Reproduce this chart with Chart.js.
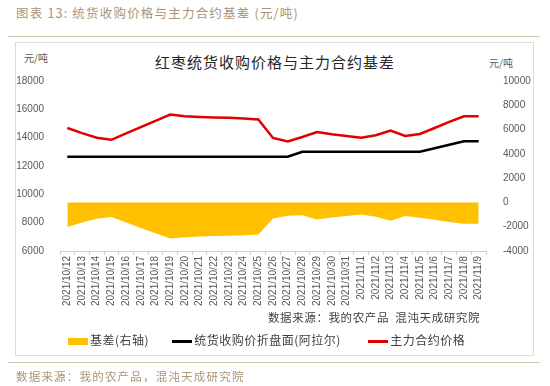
<!DOCTYPE html>
<html>
<head>
<meta charset="utf-8">
<script src="https://cdn.jsdelivr.net/npm/chart.js@4/dist/chart.umd.min.js"></script>
<style>
  body { margin: 0; width: 550px; height: 386px; background: #fff; position: relative; overflow: hidden;
         font-family: "Noto Sans CJK SC", "Noto Sans", sans-serif; }
  .abs { position: absolute; white-space: nowrap; }
  #caption { left: 16px; top: 3px; font-size: 12.5px; color: #a99574; letter-spacing: 1.2px; }
  #topline { left: 8px; top: 36px; width: 532px; height: 1px; background: #d3c6ad; }
  #box { left: 15px; top: 42px; width: 517px; height: 312px; border: 1px solid #dcdcdc; }
  #title { left: 0; width: 550px; top: 51px; text-align: center; font-size: 15px; color: #262626; letter-spacing: 1px; }
  .unit { font-size: 10px; color: #595959; }
  #src1 { left: 268px; top: 309px; font-size: 11.5px; color: #404040; letter-spacing: 0.6px; }
  #legend { left: 68px; top: 331px; font-size: 12px; color: #404040; letter-spacing: 0.5px; }
  #legend span.k { display: inline-block; vertical-align: middle; width: 20px; margin-right: 2px; }
  #botline { left: 8px; top: 362px; width: 532px; height: 1px; background: #d3c6ad; }
  #footer { left: 16px; top: 368px; font-size: 11.5px; color: #a99574; letter-spacing: 1.2px; }
  #wrap { position: absolute; left: 15px; top: 42px; width: 518px; height: 313px; }
</style>
</head>
<body>
<div class="abs" id="caption">图表 13: 统货收购价格与主力合约基差 (元/吨)</div>
<div class="abs" id="topline"></div>
<div class="abs" id="box"></div>
<div class="abs" id="title">红枣统货收购价格与主力合约基差</div>
<div class="abs unit" style="left:24px;top:50px;">元/吨</div>
<div class="abs unit" style="left:489px;top:55px;">元/吨</div>
<div id="wrap"><canvas id="myChart" width="518" height="313"></canvas></div>
<div class="abs" id="src1">数据来源：我的农产品&nbsp;&nbsp;混沌天成研究院</div>
<div class="abs" id="legend">
  <span class="k" style="height:7px;background:#ffc000;"></span>基差(右轴)
  <span class="k" style="height:3px;background:#000;margin-left:20px;"></span>统货收购价折盘面(阿拉尔)
  <span class="k" style="height:3px;background:#e00000;margin-left:24px;"></span>主力合约价格
</div>
<div class="abs" id="botline"></div>
<div class="abs" id="footer">数据来源：我的农产品，混沌天成研究院</div>

<script>
// dates on the x axis
var xDates = ["2021/10/12","2021/10/13","2021/10/14","2021/10/15","2021/10/16","2021/10/17","2021/10/18",
  "2021/10/19","2021/10/20","2021/10/21","2021/10/22","2021/10/23","2021/10/24","2021/10/25","2021/10/26",
  "2021/10/27","2021/10/28","2021/10/29","2021/10/30","2021/10/31","2021/11/1","2021/11/2","2021/11/3",
  "2021/11/4","2021/11/5","2021/11/6","2021/11/7","2021/11/8","2021/11/9"];

// 主力合约价格 (left axis)
var futuresPrice = [14680,14320,14000,13850,14300,14750,15190,15630,15510,15460,15420,15400,15360,15290,
  13980,13740,14050,14400,14240,14120,14000,14170,14500,14120,14260,14680,15110,15510,15510];

// 统货收购价折盘面 (left axis)
var spotPrice = [12650,12650,12650,12650,12650,12650,12650,12650,12650,12650,12650,12650,12650,12650,
  12650,12650,13000,13000,13000,13000,13000,13000,13000,13000,13000,13250,13500,13750,13750];

// 基差 (right axis)
var basis = [-2030,-1650,-1350,-1200,-1650,-2100,-2540,-2980,-2860,-2810,-2770,-2750,-2710,-2640,
  -1330,-1090,-1050,-1400,-1240,-1120,-1000,-1170,-1500,-1120,-1260,-1430,-1610,-1760,-1760];

var tickFont = {family: "'Liberation Sans', Arial, sans-serif", size: 10};

function plainNum(v) { return String(v); }

var ctx = document.getElementById("myChart").getContext("2d");
var myChart = new Chart(ctx, {
  type: "line",
  data: {
    labels: xDates,
    datasets: [{
      label: "主力合约价格",
      data: futuresPrice,
      yAxisID: "y",
      borderColor: "#e00000",
      borderWidth: 2.5,
      pointRadius: 0,
      fill: false,
      tension: 0,
      order: 1
    }, {
      label: "统货收购价折盘面(阿拉尔)",
      data: spotPrice,
      yAxisID: "y",
      borderColor: "#000000",
      borderWidth: 2.5,
      pointRadius: 0,
      fill: false,
      tension: 0,
      order: 2
    }, {
      label: "基差(右轴)",
      data: basis,
      yAxisID: "y1",
      borderWidth: 0,
      borderColor: "rgba(0,0,0,0)",
      backgroundColor: "#ffc000",
      pointRadius: 0,
      fill: "origin",
      tension: 0,
      order: 3
    }]
  },
  options: {
    responsive: false,
    animation: false,
    layout: {padding: {top: 39, left: 0, right: 0, bottom: 0}},
    plugins: {legend: {display: false}, title: {display: false}, tooltip: {enabled: false}},
    scales: {
      x: {
        offset: true,
        afterFit: function(scale) { scale.height = 104; },
        grid: {offset: true, drawOnChartArea: false, drawTicks: true, tickLength: 4, color: "#d0d0d0"},
        border: {color: "#d0d0d0"},
        ticks: {autoSkip: false, maxRotation: 90, minRotation: 90, padding: 1, color: "#595959", font: tickFont}
      },
      y: {
        position: "left",
        min: 6000, max: 18000,
        afterFit: function(scale) { scale.width = 45; },
        grid: {display: false},
        border: {display: false},
        ticks: {stepSize: 2000, padding: 8, color: "#595959", font: tickFont, callback: plainNum}
      },
      y1: {
        position: "right",
        min: -4000, max: 10000,
        afterFit: function(scale) { scale.width = 47; },
        grid: {display: false},
        border: {display: false},
        ticks: {stepSize: 2000, padding: 9, color: "#595959", font: tickFont, callback: plainNum}
      }
    }
  }
});
</script>
</body>
</html>
